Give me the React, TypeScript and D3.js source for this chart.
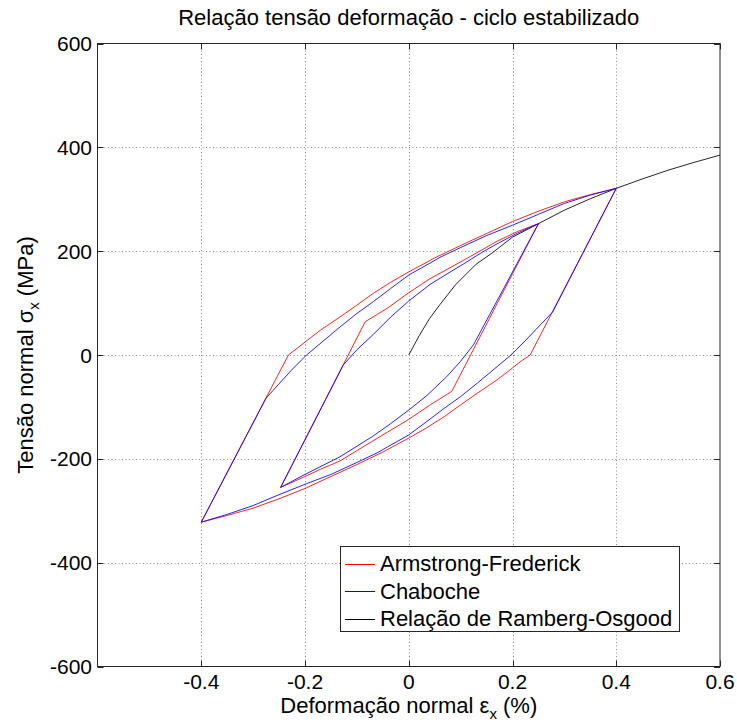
import React from "react";
import * as d3 from "d3";

type P = [number, number];

// Armstrong-Frederick (red), large loop
const afLargeUp: P[] = [[-0.4,-322],[-0.232,0],[-0.215,13],[-0.2,25],[-0.17,48],[-0.133,73],[-0.1,96],[-0.068,119],[-0.035,140],[0,160],[0.05,187],[0.1,211],[0.15,234],[0.2,257],[0.25,277],[0.3,295],[0.35,309],[0.4,321]];
const afLargeDown: P[] = [[0.4,321],[0.234,0],[0.215,-13],[0.2,-25],[0.17,-48],[0.133,-73],[0.1,-96],[0.068,-119],[0.035,-140],[0,-160],[-0.05,-187],[-0.1,-211],[-0.15,-234],[-0.2,-257],[-0.25,-277],[-0.3,-295],[-0.35,-309],[-0.4,-322]];
// Armstrong-Frederick (red), small loop
const afSmallUp: P[] = [[-0.247,-255],[-0.084,64],[-0.04,91],[0,120],[0.041,147],[0.105,182],[0.17,219],[0.21,238],[0.25,253]];
const afSmallDown: P[] = [[0.25,253],[0.083,-70],[0.04,-97],[0,-124],[-0.04,-148],[-0.08,-172],[-0.1325,-204],[-0.17,-220],[-0.2,-234],[-0.247,-255]];
// Chaboche (blue), large loop
const chLargeUp: P[] = [[-0.4,-322],[-0.275,-83],[-0.226,-29],[-0.197,0],[-0.1325,54],[-0.1,80],[-0.068,103],[-0.035,128],[0,154],[0.041,177],[0.06,188],[0.1,207],[0.15,230],[0.2,250],[0.25,271],[0.3,292],[0.35,308],[0.4,321]];
const chLargeDown: P[] = [[0.4,321],[0.2775,83],[0.226,29],[0.197,0],[0.1325,-54],[0.1,-80],[0.068,-103],[0.035,-128],[0,-154],[-0.041,-177],[-0.06,-188],[-0.1,-207],[-0.15,-230],[-0.2,-249],[-0.25,-269],[-0.3,-290],[-0.35,-307],[-0.4,-322]];
// Chaboche (blue), small loop
const chSmallUp: P[] = [[-0.247,-255],[-0.126,-19],[-0.1,10],[-0.068,40],[-0.035,73],[0,104],[0.041,136],[0.08,160],[0.105,175],[0.14,197],[0.17,214],[0.21,235],[0.25,253]];
const chSmallDown: P[] = [[0.25,253],[0.125,20],[0.1,-12],[0.073,-42],[0.035,-78],[0,-106],[-0.036,-133],[-0.07,-157],[-0.1325,-196],[-0.2,-230],[-0.247,-255]];
// Ramberg-Osgood (black)
const rambergOsgood: P[] = [[0,0],[0.02,37],[0.04,70],[0.06,97],[0.09,135],[0.13,175],[0.16,196],[0.2,227],[0.25,253],[0.3,279],[0.35,301],[0.4,321],[0.45,339],[0.5,356],[0.55,371],[0.6,385]];

const xTicks = [-0.4, -0.2, 0, 0.2, 0.4, 0.6];
const xTickLabels = ["-0.4", "-0.2", "0", "0.2", "0.4", "0.6"];
const yTicks = [-600, -400, -200, 0, 200, 400, 600];
const yTickLabels = ["-600", "-400", "-200", "0", "200", "400", "600"];

const legendLabels = ["Armstrong-Frederick", "Chaboche", "Relação de Ramberg-Osgood"];
const legendColors = ["#ff0000", "#0000ff", "#000000"];

const W = 737, H = 722;
const L = 97.5, T = 43.5, R = 720, B = 666.5;
const FONT = "'Liberation Sans', Arial, Helvetica, sans-serif";

export default function App() {
  const x = d3.scaleLinear().domain([-0.6, 0.6]).range([L, R]);
  const y = d3.scaleLinear().domain([-600, 600]).range([B, T]);
  const line = d3.line<P>().x(d => x(d[0])).y(d => y(d[1])).curve(d3.curveLinear);

  const series: { data: P[]; color: string }[] = [
    { data: rambergOsgood, color: "#000000" },
    { data: afLargeUp, color: "#ff0000" },
    { data: afLargeDown, color: "#ff0000" },
    { data: afSmallUp, color: "#ff0000" },
    { data: afSmallDown, color: "#ff0000" },
    { data: chLargeUp, color: "#0000ff" },
    { data: chLargeDown, color: "#0000ff" },
    { data: chSmallUp, color: "#0000ff" },
    { data: chSmallDown, color: "#0000ff" },
  ];

  const tickLen = 6;
  const lgX = 340, lgY = 546, lgW = 339, lgH = 85;

  return (
    <svg width={W} height={H} style={{ position: "absolute", left: 0, top: 0, background: "#fff" }} fontFamily={FONT}>
      <rect x={0} y={0} width={W} height={H} fill="#fff" />
      {/* grid */}
      <g stroke="#8c8c8c" strokeWidth={1} strokeDasharray="1,2.5">
        {xTicks.filter(t => t < 0.59).map(t => (
          <line key={"gx" + t} x1={Math.round(x(t)) + 0.5} x2={Math.round(x(t)) + 0.5} y1={T} y2={B} />
        ))}
        {yTicks.filter(t => t > -590 && t < 590).map(t => (
          <line key={"gy" + t} x1={L} x2={R} y1={Math.round(y(t)) + 0.5} y2={Math.round(y(t)) + 0.5} />
        ))}
      </g>
      {/* data */}
      <g fill="none" strokeWidth={1} strokeOpacity={0.85}>
        {series.map((s, i) => (
          <path key={i} d={line(s.data) || ""} stroke={s.color} strokeLinejoin="round" />
        ))}
      </g>
      {/* box */}
      <rect x={L} y={T} width={R - L} height={B - T} fill="none" stroke="#262626" strokeWidth={1} />
      {/* ticks */}
      <g stroke="#262626" strokeWidth={1}>
        {xTicks.map(t => {
          const px = Math.round(x(t)) + 0.5;
          return (
            <g key={"tx" + t}>
              <line x1={px} x2={px} y1={B} y2={B - tickLen} />
              <line x1={px} x2={px} y1={T} y2={T + tickLen} />
            </g>
          );
        })}
        {yTicks.map(t => {
          const py = Math.round(y(t)) + 0.5;
          return (
            <g key={"ty" + t}>
              <line x1={L} x2={L + tickLen} y1={py} y2={py} />
              <line x1={R} x2={R - tickLen} y1={py} y2={py} />
            </g>
          );
        })}
      </g>
      {/* tick labels */}
      <g fontSize={21} fill="#000">
        {xTicks.map((t, i) => (
          <text key={"lx" + t} x={x(t)} y={689} textAnchor="middle">{xTickLabels[i]}</text>
        ))}
        {yTicks.map((t, i) => (
          <text key={"ly" + t} x={92} y={y(t)} dy="0.36em" textAnchor="end">{yTickLabels[i]}</text>
        ))}
      </g>
      {/* title */}
      <text x={(L + R) / 2} y={25} textAnchor="middle" fontSize={22} fill="#000">
        Relação tensão deformação - ciclo estabilizado
      </text>
      {/* x label */}
      <text x={(L + R) / 2} y={713} textAnchor="middle" fontSize={22} fill="#000">
        Deformação normal ε<tspan fontSize={15} dy={6}>x</tspan><tspan dy={-6}> (%)</tspan>
      </text>
      {/* y label */}
      <text transform={`translate(33,${(T + B) / 2}) rotate(-90)`} textAnchor="middle" fontSize={22} fill="#000">
        Tensão normal σ<tspan fontSize={15} dy={6}>x</tspan><tspan dy={-6}> (MPa)</tspan>
      </text>
      {/* legend */}
      <g>
        <rect x={lgX + 0.5} y={lgY + 0.5} width={lgW} height={lgH} fill="#fff" stroke="#262626" strokeWidth={1} />
        {legendLabels.map((lab, i) => {
          const cy = 563.5 + i * 27.5;
          const ly = Math.round(cy) + 0.5;
          return (
            <g key={lab}>
              <line x1={345} x2={375} y1={ly} y2={ly} stroke={legendColors[i]} strokeWidth={1} />
              <text x={380} y={cy} dy="0.36em" fontSize={22} fill="#000">{lab}</text>
            </g>
          );
        })}
      </g>
    </svg>
  );
}
